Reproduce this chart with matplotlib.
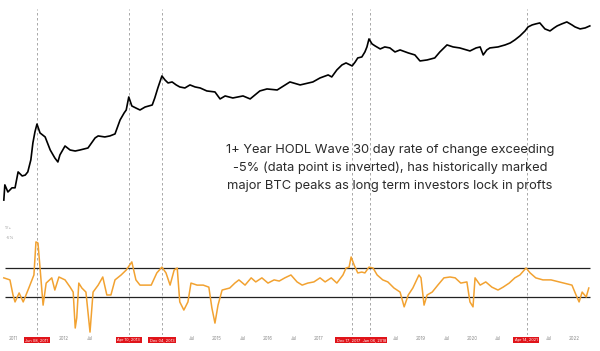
import matplotlib
matplotlib.use("Agg")
import matplotlib.pyplot as plt

# ------------------------------------------------------------
# data (decimal years)
# ------------------------------------------------------------
price_t = [2010.82, 2010.84, 2010.90, 2010.98, 2011.04, 2011.10, 2011.18, 2011.24, 2011.29,
           2011.35, 2011.39, 2011.43, 2011.47, 2011.53, 2011.63, 2011.73, 2011.82, 2011.88,
           2011.92, 2012.02, 2012.12, 2012.22, 2012.31, 2012.47, 2012.61, 2012.67, 2012.80,
           2012.90, 2013.00, 2013.10, 2013.18, 2013.22, 2013.27, 2013.33, 2013.41, 2013.49,
           2013.59, 2013.73, 2013.78, 2013.84, 2013.88, 2013.92, 2013.98, 2014.04, 2014.12,
           2014.20, 2014.27, 2014.37, 2014.47, 2014.57, 2014.67, 2014.80, 2014.96, 2015.06,
           2015.16, 2015.31, 2015.51, 2015.65, 2015.84, 2015.98, 2016.18, 2016.43, 2016.63,
           2016.88, 2017.02, 2017.18, 2017.25, 2017.35, 2017.45, 2017.53, 2017.61, 2017.65,
           2017.71, 2017.76, 2017.84, 2017.90, 2017.94, 2017.98, 2018.04, 2018.10, 2018.20,
           2018.29, 2018.39, 2018.49, 2018.59, 2018.75, 2018.88, 2018.98, 2019.12, 2019.27,
           2019.37, 2019.51, 2019.63, 2019.76, 2019.96, 2020.08, 2020.16, 2020.22, 2020.29,
           2020.35, 2020.51, 2020.65, 2020.75, 2020.84, 2020.94, 2021.04, 2021.10, 2021.18,
           2021.25, 2021.33, 2021.43, 2021.53, 2021.61, 2021.67, 2021.76, 2021.86, 2021.96,
           2022.02, 2022.12, 2022.22, 2022.31]
price = [0.095, 0.30, 0.175, 0.24, 0.24, 0.80, 0.59, 0.63, 0.80,
         2.0, 7.2, 16.5, 30, 15.3, 11.3, 4.2, 2.3, 1.7,
         2.9, 5.7, 4.2, 3.9, 4.2, 4.9, 10.5, 12.2, 11.3,
         12.2, 14.2, 41, 70, 87, 233, 118, 101, 87,
         109, 127, 216, 461, 727, 1145, 846, 674, 727,
         580, 498, 461, 580, 498, 461, 368, 341, 201,
         252, 216, 252, 201, 368, 428, 396, 727, 580,
         727, 984, 1236, 1062, 1805, 2636, 3069, 2636, 2443,
         3305, 4479, 4830, 7047, 10300, 18900, 12950, 11120, 8851,
         10300, 9550, 7047, 8204, 6546, 5623, 3565, 3846, 4479,
         7047, 12000, 10300, 9550, 7600, 9550, 10300, 5623, 8204,
         9550, 10300, 12000, 13930, 17500, 23700, 34600, 46900, 54600,
         58900, 63400, 40300, 34600, 43500, 50600, 58900, 68400, 54600,
         46900, 40300, 43500, 50600]

hodl_t = [2010.82, 2010.94, 2011.00, 2011.04, 2011.12, 2011.20, 2011.31, 2011.41, 2011.45,
          2011.49, 2011.53, 2011.59, 2011.65, 2011.76, 2011.82, 2011.90, 2012.02, 2012.12,
          2012.18, 2012.22, 2012.25, 2012.29, 2012.35, 2012.43, 2012.51, 2012.57, 2012.67,
          2012.76, 2012.84, 2012.92, 2013.00, 2013.12, 2013.22, 2013.33, 2013.41, 2013.49,
          2013.59, 2013.71, 2013.82, 2013.92, 2014.00, 2014.08, 2014.16, 2014.22, 2014.27,
          2014.35, 2014.43, 2014.49, 2014.61, 2014.73, 2014.84, 2014.90, 2014.96, 2015.02,
          2015.10, 2015.25, 2015.35, 2015.43, 2015.55, 2015.67, 2015.76, 2015.88, 2016.00,
          2016.12, 2016.22, 2016.33, 2016.45, 2016.57, 2016.67, 2016.78, 2016.90, 2017.02,
          2017.12, 2017.24, 2017.35, 2017.47, 2017.53, 2017.59, 2017.63, 2017.69, 2017.76,
          2017.84, 2017.90, 2017.98, 2018.06, 2018.14, 2018.25, 2018.35, 2018.47, 2018.59,
          2018.67, 2018.75, 2018.84, 2018.96, 2019.00, 2019.06, 2019.12, 2019.22, 2019.33,
          2019.45, 2019.57, 2019.67, 2019.78, 2019.90, 2019.96, 2020.02, 2020.06, 2020.16,
          2020.27, 2020.39, 2020.51, 2020.61, 2020.73, 2020.84, 2020.94, 2021.06, 2021.14,
          2021.25, 2021.39, 2021.55, 2021.71, 2021.80, 2021.96, 2022.04, 2022.10, 2022.16,
          2022.24, 2022.29]
hodl_roc = [1.6, 0.9, -4.3, -6.7, -3.6, -6.7, -1.9, 2.6, 14.0,
            13.6, 5.0, -7.8, -0.2, 1.6, -2.6, 1.9, 0.9, -1.6,
            -3.3, -15.7, -12.2, -0.2, -1.9, -3.3, -17.1, -3.3, -0.9,
            1.9, -4.3, -4.3, 0.9, 2.6, 4.3, 7.1, 0.9, -0.9,
            -0.9, -0.9, 3.3, 5.3, 3.3, -0.9, 4.3, 5.0, -6.7,
            -9.5, -6.7, -0.2, -0.9, -0.9, -1.6, -8.8, -14.0, -7.8,
            -2.6, -1.9, -0.2, 0.9, -0.9, 1.6, 0.2, 1.6, -0.2,
            0.9, 0.5, 1.6, 2.6, 0.2, -0.9, -0.2, 0.2, 1.6,
            0.2, 1.6, -0.2, 2.6, 5.0, 5.3, 8.8, 6.0, 3.3,
            3.6, 3.3, 5.3, 5.0, 2.6, 0.9, 0.2, -1.9, -3.3,
            -8.4, -4.3, -1.9, 2.6, 1.6, -7.8, -4.3, -3.3, -0.9,
            1.6, 1.9, 1.6, -0.2, 0.2, -6.7, -8.4, 1.6, -0.9,
            0.2, -1.6, -2.6, -1.6, -0.2, 1.6, 2.6, 5.0, 3.3,
            1.6, 0.9, 0.9, 0.2, -0.2, -0.9, -4.3, -6.7, -3.3,
            -5.0, -1.9]

upper_band = 5
lower_band = -5

peak_t = [2011.47, 2013.27, 2013.92, 2017.65, 2018.00, 2021.08]
box_t = [2011.47, 2013.27, 2013.92, 2017.83, 2021.06]
box_labels = ["Jun 08, 2011", "Apr 10, 2013", "Dec 04, 2013",
              "Dec 17, 2017  Jan 06, 2018", "Apr 14, 2021"]

# ticks hidden under the red date boxes are left out
tick_t = [2011.0, 2012.0, 2012.5, 2014.5, 2015.0, 2015.5,
          2016.0, 2016.5, 2017.0, 2018.5, 2019.0, 2019.5, 2020.0, 2020.5,
          2021.5, 2022.0]
tick_labels = ["2011", "2012", "Jul", "Jul", "2015", "Jul",
               "2016", "Jul", "2017", "Jul", "2019", "Jul", "2020", "Jul",
               "Jul", "2022"]

note = ("1+ Year HODL Wave 30 day rate of change exceeding\n"
        "-5% (data point is inverted), has historically marked\n"
        "major BTC peaks as long term investors lock in profts")

# ------------------------------------------------------------
# figure
# ------------------------------------------------------------
plt.rcParams["font.family"] = ["Inter", "DejaVu Sans"]

fig = plt.figure(figsize=(6.0, 3.51), dpi=100)
x0, x1 = 2010.745, 2022.51

ax_top = fig.add_axes([0, 1 - 220 / 351, 1, 220 / 351])
ax_bot = fig.add_axes([0, 16 / 351, 1, 115 / 351])

# price (log)
ax_top.plot(price_t, price, color="black", linewidth=1.2)
ax_top.set_yscale("log")
ax_top.set_ylim(0.021, 3.6e5)
ax_top.set_xlim(x0, x1)
ax_top.axis("off")

ax_top.text(2018.39, 1.08, note, ha="center", va="center",
            fontsize=9.3, color="#2b2b2b", linespacing=1.6)

# oscillator
ax_bot.plot(hodl_t, hodl_roc, color="#f2a231", linewidth=1.1, zorder=3)
ax_bot.hlines([upper_band, lower_band], 2010.84, 2022.31, color="#222222",
              linewidth=0.9, zorder=2)
ax_bot.set_xlim(x0, x1)
ax_bot.set_ylim(-18.1, 21.55)
for s in ax_bot.spines.values():
    s.set_visible(False)
ax_bot.set_yticks([])
ax_bot.set_xticks(tick_t)
ax_bot.set_xticklabels(tick_labels, fontsize=3.2, color="#8a8a8a")
ax_bot.tick_params(axis="x", length=0, pad=1.0)

ax_bot.text(2010.85, 18.5, "1Y+", fontsize=3, color="#a0a0a0")
ax_bot.text(2010.85, 15.0, "-5%", fontsize=3, color="#a0a0a0")

# peak markers
for t in peak_t:
    ax_top.axvline(t, ymin=0, ymax=0.96, color="#9a9a9a", linewidth=0.6,
                   linestyle=(0, (3, 3)), zorder=1)
    ax_bot.axvline(t, color="#9a9a9a", linewidth=0.6,
                   linestyle=(0, (3, 3)), zorder=1)

for t, lab in zip(box_t, box_labels):
    ax_bot.text(t, -19.8, lab, ha="center", va="center", fontsize=2.8,
                color="white", clip_on=False, zorder=5,
                bbox=dict(boxstyle="square,pad=0.35", fc="#e0141a", ec="none"))

fig.savefig("out.png", dpi=100, facecolor="white")
